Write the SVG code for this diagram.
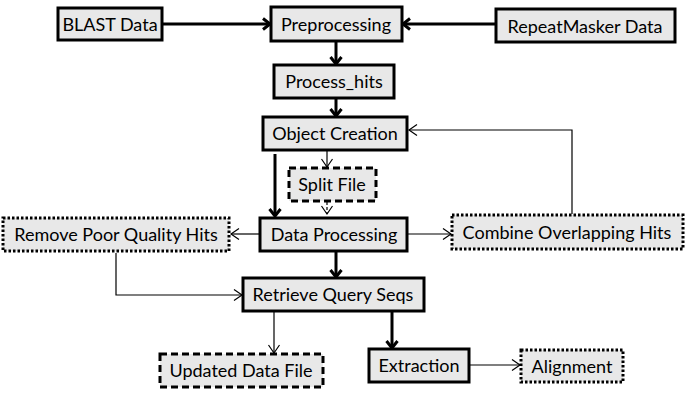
<svg xmlns="http://www.w3.org/2000/svg" width="685" height="409" viewBox="0 0 685 409">
<defs>
<style>
.box{fill:#e8e8e8;stroke:#000;stroke-width:3}
.dash{fill:#e8e8e8;stroke:#000;stroke-width:3;stroke-dasharray:7 4}
.dot{fill:#e8e8e8;stroke:#000;stroke-width:3;stroke-dasharray:2.5 2}
.lbl{font-family:Lato,"Liberation Sans",sans-serif;font-size:18px;fill:#000;text-anchor:middle;dominant-baseline:central}
.thick{fill:none;stroke:#000;stroke-width:3}
.thin{fill:none;stroke:#000;stroke-width:1.2}
</style>
<marker id="ah" markerUnits="userSpaceOnUse" markerWidth="14" markerHeight="14" refX="10" refY="7" orient="auto">
<path d="M3,1.5 L10,7 L3,12.5" fill="none" stroke="#000" stroke-width="3"/>
</marker>
<marker id="at" markerUnits="userSpaceOnUse" markerWidth="14" markerHeight="14" refX="11" refY="7" orient="auto">
<path d="M3,1.5 L11,7 L3,12.5" fill="none" stroke="#000" stroke-width="1.2"/>
</marker>
</defs>
<rect width="685" height="409" fill="#fff"/>
<g id="connectors">
<line class="thick" x1="163" y1="24" x2="270" y2="24" marker-end="url(#ah)"/>
<line class="thick" x1="496" y1="24" x2="403" y2="24" marker-end="url(#ah)"/>
<line class="thick" x1="336" y1="42" x2="336" y2="64" marker-end="url(#ah)"/>
<line class="thick" x1="336" y1="99" x2="336" y2="116" marker-end="url(#ah)"/>
<line class="thick" x1="275" y1="154" x2="275" y2="216" marker-end="url(#ah)"/>
<line class="thin" x1="327" y1="151" x2="327" y2="167" marker-end="url(#at)"/>
<line class="thin" x1="327" y1="202" x2="327" y2="214" marker-end="url(#at)" stroke-dasharray="3 2"/>
<line class="thin" x1="261" y1="234" x2="231" y2="234" marker-end="url(#at)"/>
<line class="thin" x1="408" y1="234" x2="451" y2="234" marker-end="url(#at)"/>
<polyline class="thin" points="572,214 572,130 409,130" marker-end="url(#at)"/>
<polyline class="thin" points="116,253 116,295 242,295" marker-end="url(#at)"/>
<line class="thick" x1="336" y1="252" x2="336" y2="277" marker-end="url(#ah)"/>
<line class="thin" x1="274" y1="312" x2="274" y2="353" marker-end="url(#at)"/>
<line class="thick" x1="392" y1="312" x2="392" y2="348" marker-end="url(#ah)"/>
<line class="thin" x1="470" y1="365" x2="520" y2="365" marker-end="url(#at)"/>
</g>
<g id="blast"><rect class="box" x="58" y="8" width="104" height="32"/><text class="lbl" x="110" y="24">BLAST Data</text></g>
<g id="preprocessing"><rect class="box" x="271" y="7" width="131" height="34"/><text class="lbl" x="336" y="24">Preprocessing</text></g>
<g id="repeatmasker"><rect class="box" x="496" y="9" width="179" height="33"/><text class="lbl" x="585" y="26">RepeatMasker Data</text></g>
<g id="process_hits"><rect class="box" x="274" y="65" width="120" height="33"/><text class="lbl" x="334" y="81">Process_hits</text></g>
<g id="object_creation"><rect class="box" x="263" y="117" width="144" height="33"/><text class="lbl" x="335" y="133">Object Creation</text></g>
<g id="split_file"><rect class="dash" x="289" y="168" width="87" height="33"/><text class="lbl" x="332" y="184">Split File</text></g>
<g id="data_processing"><rect class="box" x="260" y="218" width="147" height="33"/><text class="lbl" x="334" y="234">Data Processing</text></g>
<g id="remove_poor"><rect class="dot" x="3" y="218" width="226" height="33"/><text class="lbl" x="116" y="234">Remove Poor Quality Hits</text></g>
<g id="combine"><rect class="dot" x="452" y="215" width="231" height="34"/><text class="lbl" x="567" y="232">Combine Overlapping Hits</text></g>
<g id="retrieve"><rect class="box" x="243" y="278" width="181" height="33"/><text class="lbl" x="333" y="294">Retrieve Query Seqs</text></g>
<g id="updated_data_file"><rect class="dash" x="160" y="354" width="163" height="33"/><text class="lbl" x="241" y="370">Updated Data File</text></g>
<g id="extraction"><rect class="box" x="369" y="349" width="100" height="33"/><text class="lbl" x="419" y="365">Extraction</text></g>
<g id="alignment"><rect class="dot" x="521" y="350" width="102" height="32"/><text class="lbl" x="572" y="366">Alignment</text></g>
</svg>
